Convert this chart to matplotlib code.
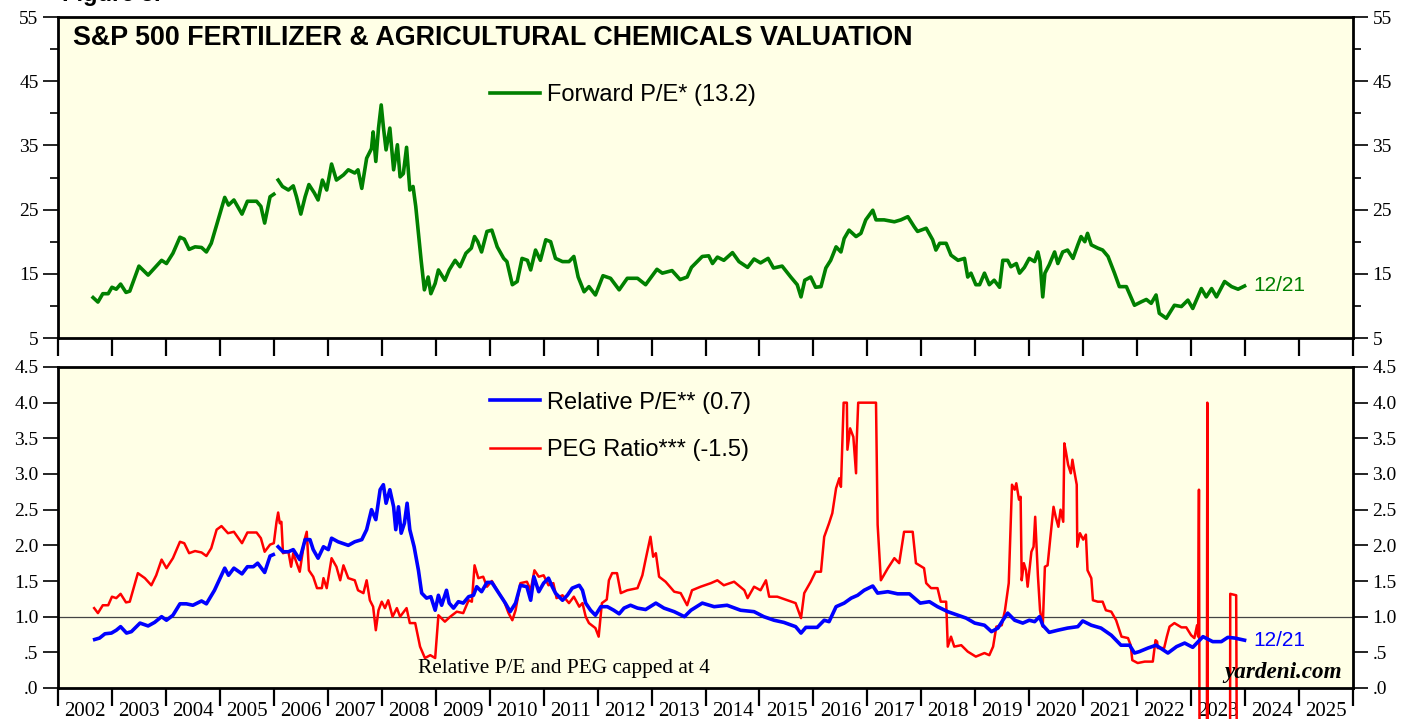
import numpy as np
import matplotlib
matplotlib.use('Agg')
import matplotlib.pyplot as plt

# forward P/E (top panel)
pe_year = [2002.65, 2002.74, 2002.83, 2002.93, 2003.00, 2003.08, 2003.16, 2003.26, 2003.33, 2003.50,
           2003.67, 2003.79, 2003.92, 2004.01, 2004.13, 2004.26, 2004.34, 2004.43, 2004.54, 2004.66,
           2004.75, 2004.84, 2005.09, 2005.16, 2005.26, 2005.41, 2005.51, 2005.68, 2005.76, 2005.83,
           2005.93, 2006.00, 2006.04, 2006.08, 2006.16, 2006.27, 2006.36, 2006.42, 2006.50, 2006.58,
           2006.65, 2006.75, 2006.82, 2006.90, 2006.98, 2007.07, 2007.16, 2007.29, 2007.38, 2007.50,
           2007.56, 2007.63, 2007.72, 2007.81, 2007.84, 2007.89, 2007.94, 2007.99, 2008.03, 2008.08,
           2008.15, 2008.22, 2008.29, 2008.34, 2008.40, 2008.46, 2008.52, 2008.58, 2008.63, 2008.68,
           2008.73, 2008.79, 2008.86, 2008.91, 2008.99, 2009.05, 2009.17, 2009.25, 2009.36, 2009.45,
           2009.56, 2009.66, 2009.72, 2009.78, 2009.85, 2009.95, 2010.04, 2010.14, 2010.26, 2010.32,
           2010.42, 2010.51, 2010.60, 2010.70, 2010.76, 2010.85, 2010.94, 2011.04, 2011.13, 2011.22,
           2011.35, 2011.47, 2011.56, 2011.64, 2011.75, 2011.84, 2011.96, 2012.10, 2012.24, 2012.40,
           2012.55, 2012.74, 2012.89, 2013.10, 2013.20, 2013.38, 2013.53, 2013.66, 2013.74, 2013.94,
           2014.06, 2014.13, 2014.22, 2014.34, 2014.50, 2014.62, 2014.78, 2014.90, 2015.02, 2015.16,
           2015.26, 2015.42, 2015.58, 2015.70, 2015.77, 2015.84, 2015.95, 2016.04, 2016.14, 2016.23,
           2016.32, 2016.42, 2016.51, 2016.57, 2016.66, 2016.79, 2016.88, 2016.97, 2017.10, 2017.16,
           2017.31, 2017.50, 2017.62, 2017.75, 2017.87, 2017.93, 2018.09, 2018.21, 2018.27, 2018.34,
           2018.46, 2018.55, 2018.68, 2018.80, 2018.86, 2018.92, 2019.01, 2019.08, 2019.17, 2019.26,
           2019.35, 2019.45, 2019.51, 2019.60, 2019.66, 2019.76, 2019.82, 2019.91, 2020.00, 2020.10,
           2020.16, 2020.20, 2020.25, 2020.29, 2020.37, 2020.47, 2020.53, 2020.62, 2020.71, 2020.81,
           2020.90, 2020.96, 2021.03, 2021.08, 2021.15, 2021.27, 2021.36, 2021.46, 2021.58, 2021.67,
           2021.80, 2021.95, 2022.08, 2022.17, 2022.26, 2022.35, 2022.41, 2022.54, 2022.69, 2022.82,
           2022.94, 2023.03, 2023.19, 2023.28, 2023.38, 2023.47, 2023.62, 2023.75, 2023.87, 2023.99]
pe_val = [11.3, 10.6, 11.9, 11.9, 12.9, 12.6, 13.4, 12.1, 12.3, 16.2,
          14.8, 15.9, 17.1, 16.6, 18.2, 20.7, 20.4, 18.8, 19.2, 19.1,
          18.4, 19.75, 26.9, 25.7, 26.5, 24.3, 26.3, 26.3, 25.5, 22.9,
          27.0, 27.4, np.nan, 29.6, 28.6, 28.05, 28.7, 27.0, 24.3, 27.0,
          28.9, 27.6, 26.5, 29.6, 28.05, 32.1, 29.6, 30.4, 31.2, 30.7,
          31.2, 28.3, 33.0, 34.5, 37.1, 32.5, 37.7, 41.3, 37.9, 34.3,
          37.7, 31.2, 35.1, 30.1, 30.6, 34.7, 28.05, 28.6, 25.5, 21.3,
          17.1, 12.5, 14.5, 11.9, 13.5, 15.6, 14.0, 15.6, 17.1, 16.1,
          18.2, 19.0, 20.8, 20.0, 18.4, 21.6, 21.8, 19.2, 17.4, 16.9,
          13.3, 13.8, 17.4, 17.1, 15.6, 18.7, 17.1, 20.3, 20.0, 17.4,
          16.9, 16.9, 17.7, 14.5, 12.2, 13.0, 11.7, 14.7, 14.3, 12.5,
          14.3, 14.3, 13.3, 15.7, 15.1, 15.5, 14.1, 14.5, 16.0, 17.7,
          17.8, 16.6, 17.6, 17.1, 18.3, 16.9, 16.0, 17.3, 16.7, 17.4,
          15.9, 16.2, 14.5, 13.3, 11.4, 14.0, 14.5, 12.9, 13.0, 15.9,
          17.1, 19.2, 18.4, 20.5, 21.8, 20.8, 21.3, 23.4, 24.9, 23.4,
          23.4, 23.1, 23.4, 23.9, 22.3, 21.6, 22.1, 20.3, 18.7, 19.75,
          19.75, 17.9, 17.1, 17.4, 14.5, 15.1, 13.3, 13.3, 15.1, 13.3,
          14.0, 12.9, 17.1, 17.1, 16.1, 16.6, 15.1, 16.0, 17.4, 16.9,
          18.4, 16.9, 11.4, 15.1, 16.4, 18.4, 16.6, 18.4, 18.7, 17.4,
          19.5, 20.8, 20.0, 21.3, 19.5, 19.0, 18.7, 17.7, 15.1, 13.0,
          13.0, 10.1, 10.65, 11.0, 10.4, 11.7, 8.85, 8.07, 10.1, 9.9,
          10.9, 9.6, 12.7, 11.4, 12.7, 11.4, 13.8, 13.0, 12.6, 13.1]

# relative P/E (bottom panel, blue)
rel_year = [2002.68, 2002.77, 2002.87, 2002.99, 2003.08, 2003.16, 2003.27, 2003.36, 2003.52, 2003.67,
            2003.79, 2003.92, 2004.01, 2004.13, 2004.26, 2004.38, 2004.50, 2004.66, 2004.75, 2004.90,
            2005.09, 2005.16, 2005.26, 2005.41, 2005.51, 2005.62, 2005.70, 2005.83, 2005.93, 2005.99,
            2006.04, 2006.08, 2006.17, 2006.27, 2006.36, 2006.48, 2006.58, 2006.67, 2006.73, 2006.82,
            2006.92, 2007.01, 2007.07, 2007.19, 2007.38, 2007.50, 2007.63, 2007.72, 2007.81, 2007.89,
            2007.97, 2008.03, 2008.08, 2008.15, 2008.22, 2008.26, 2008.31, 2008.36, 2008.42, 2008.47,
            2008.52, 2008.60, 2008.68, 2008.74, 2008.83, 2008.91, 2008.99, 2009.05, 2009.11, 2009.20,
            2009.25, 2009.33, 2009.42, 2009.51, 2009.61, 2009.70, 2009.76, 2009.85, 2009.95, 2010.04,
            2010.17, 2010.29, 2010.38, 2010.48, 2010.57, 2010.69, 2010.76, 2010.82, 2010.91, 2011.00,
            2011.09, 2011.16, 2011.22, 2011.35, 2011.44, 2011.53, 2011.66, 2011.72, 2011.78, 2011.87,
            2011.96, 2012.06, 2012.18, 2012.30, 2012.40, 2012.49, 2012.61, 2012.74, 2012.89, 2013.08,
            2013.23, 2013.42, 2013.61, 2013.73, 2013.94, 2014.16, 2014.40, 2014.65, 2014.90, 2015.08,
            2015.27, 2015.45, 2015.67, 2015.77, 2015.86, 2016.07, 2016.20, 2016.29, 2016.42, 2016.57,
            2016.70, 2016.82, 2016.94, 2017.10, 2017.19, 2017.38, 2017.56, 2017.78, 2017.98, 2018.15,
            2018.30, 2018.49, 2018.68, 2018.83, 2018.99, 2019.17, 2019.30, 2019.42, 2019.51, 2019.60,
            2019.73, 2019.88, 2020.00, 2020.10, 2020.19, 2020.25, 2020.37, 2020.53, 2020.71, 2020.90,
            2020.99, 2021.15, 2021.33, 2021.52, 2021.70, 2021.86, 2021.95, 2022.04, 2022.20, 2022.35,
            2022.57, 2022.73, 2022.88, 2023.03, 2023.22, 2023.40, 2023.56, 2023.68, 2023.81, 2023.99]
rel_val = [0.68, 0.70, 0.76, 0.77, 0.81, 0.86, 0.77, 0.79, 0.91, 0.87,
           0.92, 1.00, 0.95, 1.02, 1.18, 1.18, 1.16, 1.22, 1.18, 1.37,
           1.68, 1.58, 1.68, 1.60, 1.70, 1.70, 1.75, 1.62, 1.85, 1.87,
           np.nan, 1.98, 1.91, 1.91, 1.94, 1.80, 2.08, 2.08, 1.94, 1.82,
           1.98, 1.94, 2.10, 2.05, 2.00, 2.05, 2.08, 2.22, 2.50, 2.36,
           2.78, 2.85, 2.59, 2.78, 2.54, 2.22, 2.54, 2.17, 2.31, 2.59,
           2.22, 1.98, 1.65, 1.33, 1.26, 1.28, 1.09, 1.30, 1.16, 1.37,
           1.19, 1.12, 1.21, 1.19, 1.28, 1.30, 1.42, 1.35, 1.48, 1.48,
           1.33, 1.19, 1.07, 1.19, 1.44, 1.42, 1.23, 1.56, 1.35, 1.47,
           1.54, 1.42, 1.33, 1.23, 1.30, 1.40, 1.44, 1.37, 1.19, 1.09,
           1.02, 1.14, 1.14, 1.09, 1.04, 1.12, 1.16, 1.12, 1.10, 1.19,
           1.12, 1.07, 1.00, 1.09, 1.19, 1.14, 1.16, 1.09, 1.07, 1.00,
           0.95, 0.92, 0.86, 0.77, 0.85, 0.85, 0.95, 0.93, 1.14, 1.19,
           1.26, 1.30, 1.37, 1.43, 1.33, 1.35, 1.32, 1.32, 1.19, 1.21,
           1.14, 1.07, 1.02, 0.98, 0.91, 0.88, 0.79, 0.84, 0.95, 1.05,
           0.95, 0.91, 0.95, 0.93, 1.00, 0.88, 0.78, 0.81, 0.84, 0.86,
           0.94, 0.88, 0.84, 0.74, 0.60, 0.60, 0.49, 0.51, 0.56, 0.60,
           0.49, 0.58, 0.63, 0.57, 0.72, 0.65, 0.65, 0.71, 0.70, 0.67]

# PEG ratio (bottom panel, red), capped at 4
peg_year = [2002.67, 2002.74, 2002.83, 2002.93, 2003.00, 2003.08, 2003.16, 2003.26, 2003.33, 2003.48,
            2003.61, 2003.73, 2003.82, 2003.92, 2004.01, 2004.13, 2004.26, 2004.34, 2004.43, 2004.54,
            2004.66, 2004.75, 2004.84, 2004.94, 2005.03, 2005.15, 2005.26, 2005.41, 2005.51, 2005.68,
            2005.76, 2005.83, 2005.93, 2006.00, 2006.05, 2006.08, 2006.11, 2006.14, 2006.17, 2006.27,
            2006.32, 2006.36, 2006.40, 2006.48, 2006.57, 2006.61, 2006.65, 2006.73, 2006.80, 2006.89,
            2006.92, 2006.98, 2007.07, 2007.16, 2007.23, 2007.29, 2007.38, 2007.50, 2007.56, 2007.66,
            2007.72, 2007.78, 2007.84, 2007.89, 2007.94, 2008.00, 2008.06, 2008.12, 2008.20, 2008.28,
            2008.34, 2008.46, 2008.52, 2008.62, 2008.71, 2008.80, 2008.90, 2008.99, 2009.05, 2009.17,
            2009.27, 2009.39, 2009.51, 2009.61, 2009.67, 2009.72, 2009.79, 2009.88, 2009.95, 2010.04,
            2010.17, 2010.26, 2010.35, 2010.42, 2010.48, 2010.57, 2010.69, 2010.76, 2010.83, 2010.91,
            2011.00, 2011.09, 2011.18, 2011.24, 2011.35, 2011.47, 2011.56, 2011.66, 2011.72, 2011.78,
            2011.84, 2011.96, 2012.02, 2012.08, 2012.17, 2012.21, 2012.27, 2012.36, 2012.43, 2012.55,
            2012.74, 2012.83, 2012.89, 2012.98, 2013.03, 2013.08, 2013.14, 2013.26, 2013.42, 2013.54,
            2013.66, 2013.75, 2013.91, 2014.10, 2014.22, 2014.34, 2014.53, 2014.72, 2014.78, 2014.90,
            2015.02, 2015.12, 2015.18, 2015.33, 2015.52, 2015.67, 2015.77, 2015.83, 2015.95, 2016.04,
            2016.14, 2016.20, 2016.29, 2016.35, 2016.42, 2016.48, 2016.51, 2016.56, 2016.62, 2016.63,
            2016.68, 2016.74, 2016.79, 2016.80, 2016.83, 2017.16, 2017.19, 2017.25, 2017.38, 2017.50,
            2017.59, 2017.68, 2017.84, 2017.90, 2018.05, 2018.09, 2018.18, 2018.30, 2018.36, 2018.46,
            2018.49, 2018.55, 2018.61, 2018.74, 2018.86, 2019.01, 2019.17, 2019.26, 2019.33, 2019.39,
            2019.49, 2019.55, 2019.62, 2019.68, 2019.73, 2019.76, 2019.81, 2019.84, 2019.86, 2019.90,
            2019.94, 2019.97, 2020.04, 2020.08, 2020.11, 2020.16, 2020.20, 2020.25, 2020.29, 2020.34,
            2020.39, 2020.45, 2020.49, 2020.54, 2020.58, 2020.63, 2020.65, 2020.68, 2020.72, 2020.77,
            2020.80, 2020.83, 2020.88, 2020.89, 2020.94, 2021.00, 2021.05, 2021.08, 2021.15, 2021.18,
            2021.27, 2021.36, 2021.42, 2021.52, 2021.61, 2021.71, 2021.83, 2021.88, 2021.91, 2022.01,
            2022.14, 2022.29, 2022.34, 2022.37, 2022.38, 2022.50, 2022.55, 2022.60, 2022.69, 2022.82,
            2022.91, 2023.00, 2023.06, 2023.11, 2023.13, 2023.145, 2023.16, 2023.29, 2023.30, 2023.31,
            2023.72, 2023.725, 2023.835, 2023.85, 2023.99]
peg_val = [1.12, 1.05, 1.16, 1.16, 1.28, 1.26, 1.32, 1.20, 1.21, 1.61,
           1.54, 1.44, 1.58, 1.80, 1.68, 1.82, 2.05, 2.03, 1.89, 1.92,
           1.90, 1.85, 1.96, 2.22, 2.27, 2.17, 2.19, 2.03, 2.18, 2.18,
           2.10, 1.91, 2.01, 2.03, 2.33, 2.46, 2.31, 2.33, 1.89, 1.91,
           1.70, 1.89, 1.80, 1.63, 2.08, 2.19, 1.65, 1.56, 1.40, 1.40,
           1.54, 1.40, 1.82, 1.70, 1.51, 1.72, 1.54, 1.51, 1.37, 1.33,
           1.51, 1.23, 1.14, 0.81, 1.09, 1.21, 1.12, 1.23, 1.00, 1.12,
           1.00, 1.12, 0.91, 0.91, 0.58, 0.42, 0.46, 0.42, 1.02, 0.93,
           1.00, 1.07, 1.05, 1.23, 1.21, 1.72, 1.54, 1.56, 1.42, 1.50,
           1.33, 1.23, 1.05, 0.95, 1.09, 1.47, 1.49, 1.37, 1.65, 1.56,
           1.58, 1.44, 1.47, 1.26, 1.30, 1.19, 1.28, 1.14, 1.19, 1.00,
           0.91, 0.84, 0.72, 1.19, 1.24, 1.51, 1.61, 1.61, 1.33, 1.37,
           1.40, 1.58, 1.80, 2.12, 1.84, 1.89, 1.56, 1.49, 1.35, 1.33,
           1.16, 1.37, 1.42, 1.47, 1.51, 1.44, 1.49, 1.37, 1.26, 1.42,
           1.37, 1.51, 1.28, 1.28, 1.23, 1.19, 0.98, 1.33, 1.49, 1.63,
           1.63, 2.12, 2.31, 2.45, 2.80, 2.94, 2.82, 4.00, 4.00, 3.34,
           3.64, 3.52, 3.01, 3.41, 4.00, 4.00, 2.29, 1.51, 1.68, 1.82,
           1.75, 2.19, 2.19, 1.75, 1.68, 1.47, 1.40, 1.40, 1.21, 1.21,
           0.58, 0.72, 0.58, 0.60, 0.51, 0.44, 0.49, 0.46, 0.58, 0.86,
           0.88, 1.09, 1.47, 2.85, 2.78, 2.87, 2.64, 2.68, 1.51, 1.75,
           1.65, 1.42, 1.91, 1.98, 2.40, 1.58, 1.09, 0.86, 1.70, 1.72,
           2.10, 2.54, 2.40, 2.26, 2.50, 2.33, 3.43, 3.31, 3.13, 3.01,
           3.20, 3.06, 2.85, 1.98, 2.17, 2.08, 2.15, 1.65, 1.54, 1.23,
           1.21, 1.21, 1.09, 1.07, 0.95, 0.72, 0.70, 0.60, 0.39, 0.35,
           0.37, 0.37, 0.67, 0.65, 0.56, 0.56, 0.72, 0.86, 0.91, 0.85,
           0.85, 0.74, 0.70, 0.88, 0.72, 2.78, -2.0, -2.0, 4.00, -2.0,
           -2.0, 1.32, 1.30, -1.5, -1.5]

years = list(range(2002, 2026))
W, H = 1419, 719
SERIF = ['Liberation Serif', 'DejaVu Serif']
SANS = ['Liberation Sans', 'DejaVu Sans']
BG = '#ffffe6'
GREEN, BLUE, RED = '#008000', '#0000ff', '#ff0000'

fig = plt.figure(figsize=(W / 100, H / 100), dpi=100)
ax1 = fig.add_axes([58 / W, 1 - 338 / H, 1295 / W, 321 / H])
ax2 = fig.add_axes([58 / W, 1 - 688 / H, 1295 / W, 321 / H])

for ax in (ax1, ax2):
    ax.set_facecolor(BG)
    ax.set_xlim(2002, 2026)
    for s in ax.spines.values():
        s.set_linewidth(2)
    ax.set_xticks(np.arange(2002, 2027))
    ax.set_xticks(np.array(years) + 0.5, minor=True)
    ax.tick_params(axis='x', which='major', direction='out', length=13, width=1.6,
                   labelbottom=False)
    ax.tick_params(axis='x', which='minor', length=0)
    ax.tick_params(axis='y', which='both', direction='out', width=1.2,
                   left=True, right=True, labelleft=True, labelright=True,
                   labelsize=14, pad=3)
    ax.tick_params(axis='y', which='major', length=11)
    ax.tick_params(axis='y', which='minor', length=6)

# top panel
ax1.set_ylim(5, 55)
ax1.set_yticks(np.arange(5, 56, 10))
ax1.set_yticks(np.arange(10, 51, 10), minor=True)
ax1.set_yticklabels([str(v) for v in range(5, 56, 10)], family=SERIF)
ax1.set_xticklabels([], minor=True)
ax1.plot(pe_year, pe_val, color=GREEN, lw=2.6, label='Forward P/E* (13.2)')
ax1.annotate('12/21', xy=(pe_year[-1], pe_val[-1]), xytext=(6, 0), textcoords='offset points',
             color=GREEN, fontsize=15, family=SANS, va='center')
ax1.text(0.0116, 0.935, 'S&P 500 FERTILIZER & AGRICULTURAL CHEMICALS VALUATION',
         transform=ax1.transAxes, fontsize=19.4, fontweight='bold', family=SANS, va='center')
ax1.legend(loc='center left', bbox_to_anchor=(0.3336, 0.757), frameon=False,
           prop={'family': SANS, 'size': 17}, handlelength=2.1, handletextpad=0.33,
           borderpad=0, borderaxespad=0)

# bottom panel
ax2.set_ylim(0, 4.5)
ax2.set_yticks(np.arange(0, 4.6, 0.5))
ax2.set_yticklabels(['.0', '.5', '1.0', '1.5', '2.0', '2.5', '3.0', '3.5', '4.0', '4.5'],
                    family=SERIF)
ax2.set_xticklabels([str(y) for y in years], minor=True, family=SERIF, fontsize=15)
ax2.tick_params(axis='x', which='minor', labelbottom=True, pad=10)
ax2.axhline(1.0, color='#444444', lw=0.9, zorder=1)
ax2.plot(rel_year, rel_val, color=BLUE, lw=2.6, label='Relative P/E** (0.7)', zorder=3)
ax2.plot(peg_year, peg_val, color=RED, lw=1.8, label='PEG Ratio*** (-1.5)', zorder=2,
         clip_on=False)
ax2.annotate('12/21', xy=(rel_year[-1], rel_val[-1]), xytext=(6, 0), textcoords='offset points',
             color=BLUE, fontsize=15, family=SANS, va='center')
ax2.text(0.278, 0.062, 'Relative P/E and PEG capped at 4', transform=ax2.transAxes,
         fontsize=15.3, family=SERIF, va='center')
ax2.text(0.9915, 0.047, 'yardeni.com', transform=ax2.transAxes, fontsize=16.7,
         family=SERIF, fontweight='bold', style='italic', ha='right', va='center')
ax2.legend(loc='center left', bbox_to_anchor=(0.3336, 0.815), frameon=False,
           prop={'family': SANS, 'size': 17}, handlelength=2.1, handletextpad=0.33,
           borderpad=0, borderaxespad=0, labelspacing=1.07)

fig.text(62 / W, 1 - 1 / H, 'Figure 5.', fontsize=17, fontweight='bold', family=SANS,
         va='baseline')

fig.savefig('out.png', dpi=100, facecolor='white')
